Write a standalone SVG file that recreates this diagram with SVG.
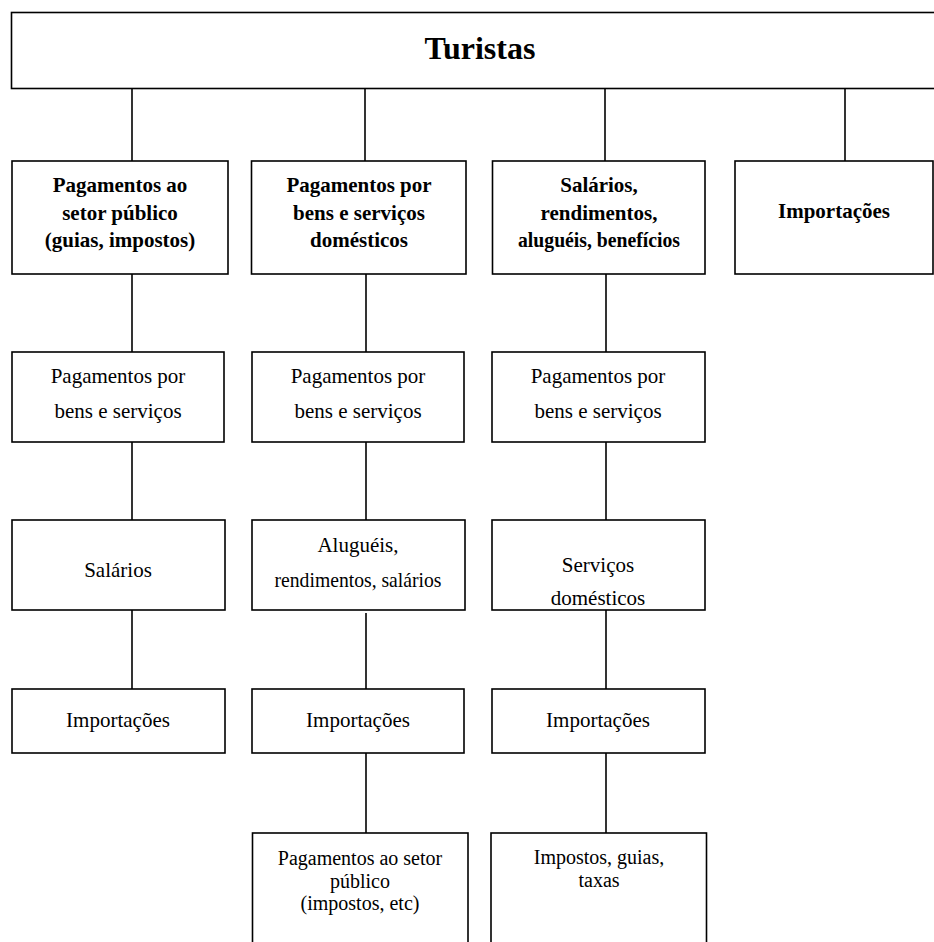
<svg xmlns="http://www.w3.org/2000/svg" width="934" height="942" viewBox="0 0 934 942">
<style>
rect{fill:#fff;stroke:#000;stroke-width:1.6}
line{stroke:#000;stroke-width:1.6}
text{font-family:"Liberation Serif","Times New Roman",serif;fill:#000;text-anchor:middle}
.b{font-weight:bold;font-size:21px}
.r{font-size:21px}
.s{font-size:20px}
.t{font-weight:bold;font-size:32px}
</style>
<rect width="934" height="942" style="fill:#fff;stroke:none"/>
<g id="connectors">
<line x1="132" y1="88" x2="132" y2="161"/>
<line x1="365" y1="88" x2="365" y2="161"/>
<line x1="605" y1="88" x2="605" y2="161"/>
<line x1="845" y1="88" x2="845" y2="161"/>
<line x1="132" y1="274" x2="132" y2="352"/>
<line x1="366" y1="274" x2="366" y2="352"/>
<line x1="606" y1="274" x2="606" y2="352"/>
<line x1="132" y1="442" x2="132" y2="520"/>
<line x1="366" y1="442" x2="366" y2="520"/>
<line x1="606" y1="442" x2="606" y2="520"/>
<line x1="132" y1="610" x2="132" y2="689"/>
<line x1="366" y1="613" x2="366" y2="689"/>
<line x1="606" y1="610" x2="606" y2="689"/>
<line x1="366" y1="753" x2="366" y2="833"/>
<line x1="606" y1="753" x2="606" y2="833"/>
</g>
<g id="turistas"><rect x="11.5" y="12.5" width="930" height="76"/><text class="t" x="480" y="59">Turistas</text></g>
<g id="r1c1"><rect x="12" y="161" width="216" height="113"/><text class="b" x="120" y="192">Pagamentos ao</text><text class="b" x="120" y="219.5">setor público</text><text class="b" x="120" y="247">(guias, impostos)</text></g>
<g id="r1c2"><rect x="251.5" y="161" width="214.5" height="113"/><text class="b" x="359" y="192">Pagamentos por</text><text class="b" x="359" y="219.5">bens e serviços</text><text class="b" x="359" y="247">domésticos</text></g>
<g id="r1c3"><rect x="492.5" y="161" width="212.5" height="113"/><text class="b" x="599" y="192">Salários,</text><text class="b" x="599" y="219.5">rendimentos,</text><text class="b" x="599" y="247" textLength="162" lengthAdjust="spacingAndGlyphs">aluguéis, benefícios</text></g>
<g id="r1c4"><rect x="735" y="161" width="198" height="113"/><text class="b" x="834" y="218">Importações</text></g>
<g id="r2c1"><rect x="12" y="352" width="212" height="90"/><text class="r" x="118" y="383">Pagamentos por</text><text class="r" x="118" y="418">bens e serviços</text></g>
<g id="r2c2"><rect x="252" y="352" width="212" height="90"/><text class="r" x="358" y="383">Pagamentos por</text><text class="r" x="358" y="418">bens e serviços</text></g>
<g id="r2c3"><rect x="492" y="352" width="213" height="90"/><text class="r" x="598" y="383">Pagamentos por</text><text class="r" x="598" y="418">bens e serviços</text></g>
<g id="r3c1"><rect x="12" y="520" width="213" height="90"/><text class="r" x="118" y="577">Salários</text></g>
<g id="r3c2"><rect x="252" y="520" width="213" height="90"/><text class="r" x="358" y="552">Aluguéis,</text><text class="r" x="358" y="587" textLength="167" lengthAdjust="spacingAndGlyphs">rendimentos, salários</text></g>
<g id="r3c3"><rect x="492" y="520" width="213" height="90"/><text class="r" x="598" y="572">Serviços</text><text class="r" x="598" y="605">domésticos</text></g>
<g id="r4c1"><rect x="12" y="689" width="213" height="64"/><text class="r" x="118" y="727">Importações</text></g>
<g id="r4c2"><rect x="252" y="689" width="212" height="64"/><text class="r" x="358" y="727">Importações</text></g>
<g id="r4c3"><rect x="492" y="689" width="213" height="64"/><text class="r" x="598" y="727">Importações</text></g>
<g id="r5c2"><rect x="252.5" y="833" width="215.5" height="120"/><text class="s" x="360" y="865">Pagamentos ao setor</text><text class="s" x="360" y="887.5">público</text><text class="s" x="360" y="910">(impostos, etc)</text></g>
<g id="r5c3"><rect x="491" y="833" width="215.5" height="120"/><text class="s" x="599" y="864">Impostos, guias,</text><text class="s" x="599" y="886.5">taxas</text></g>
</svg>
